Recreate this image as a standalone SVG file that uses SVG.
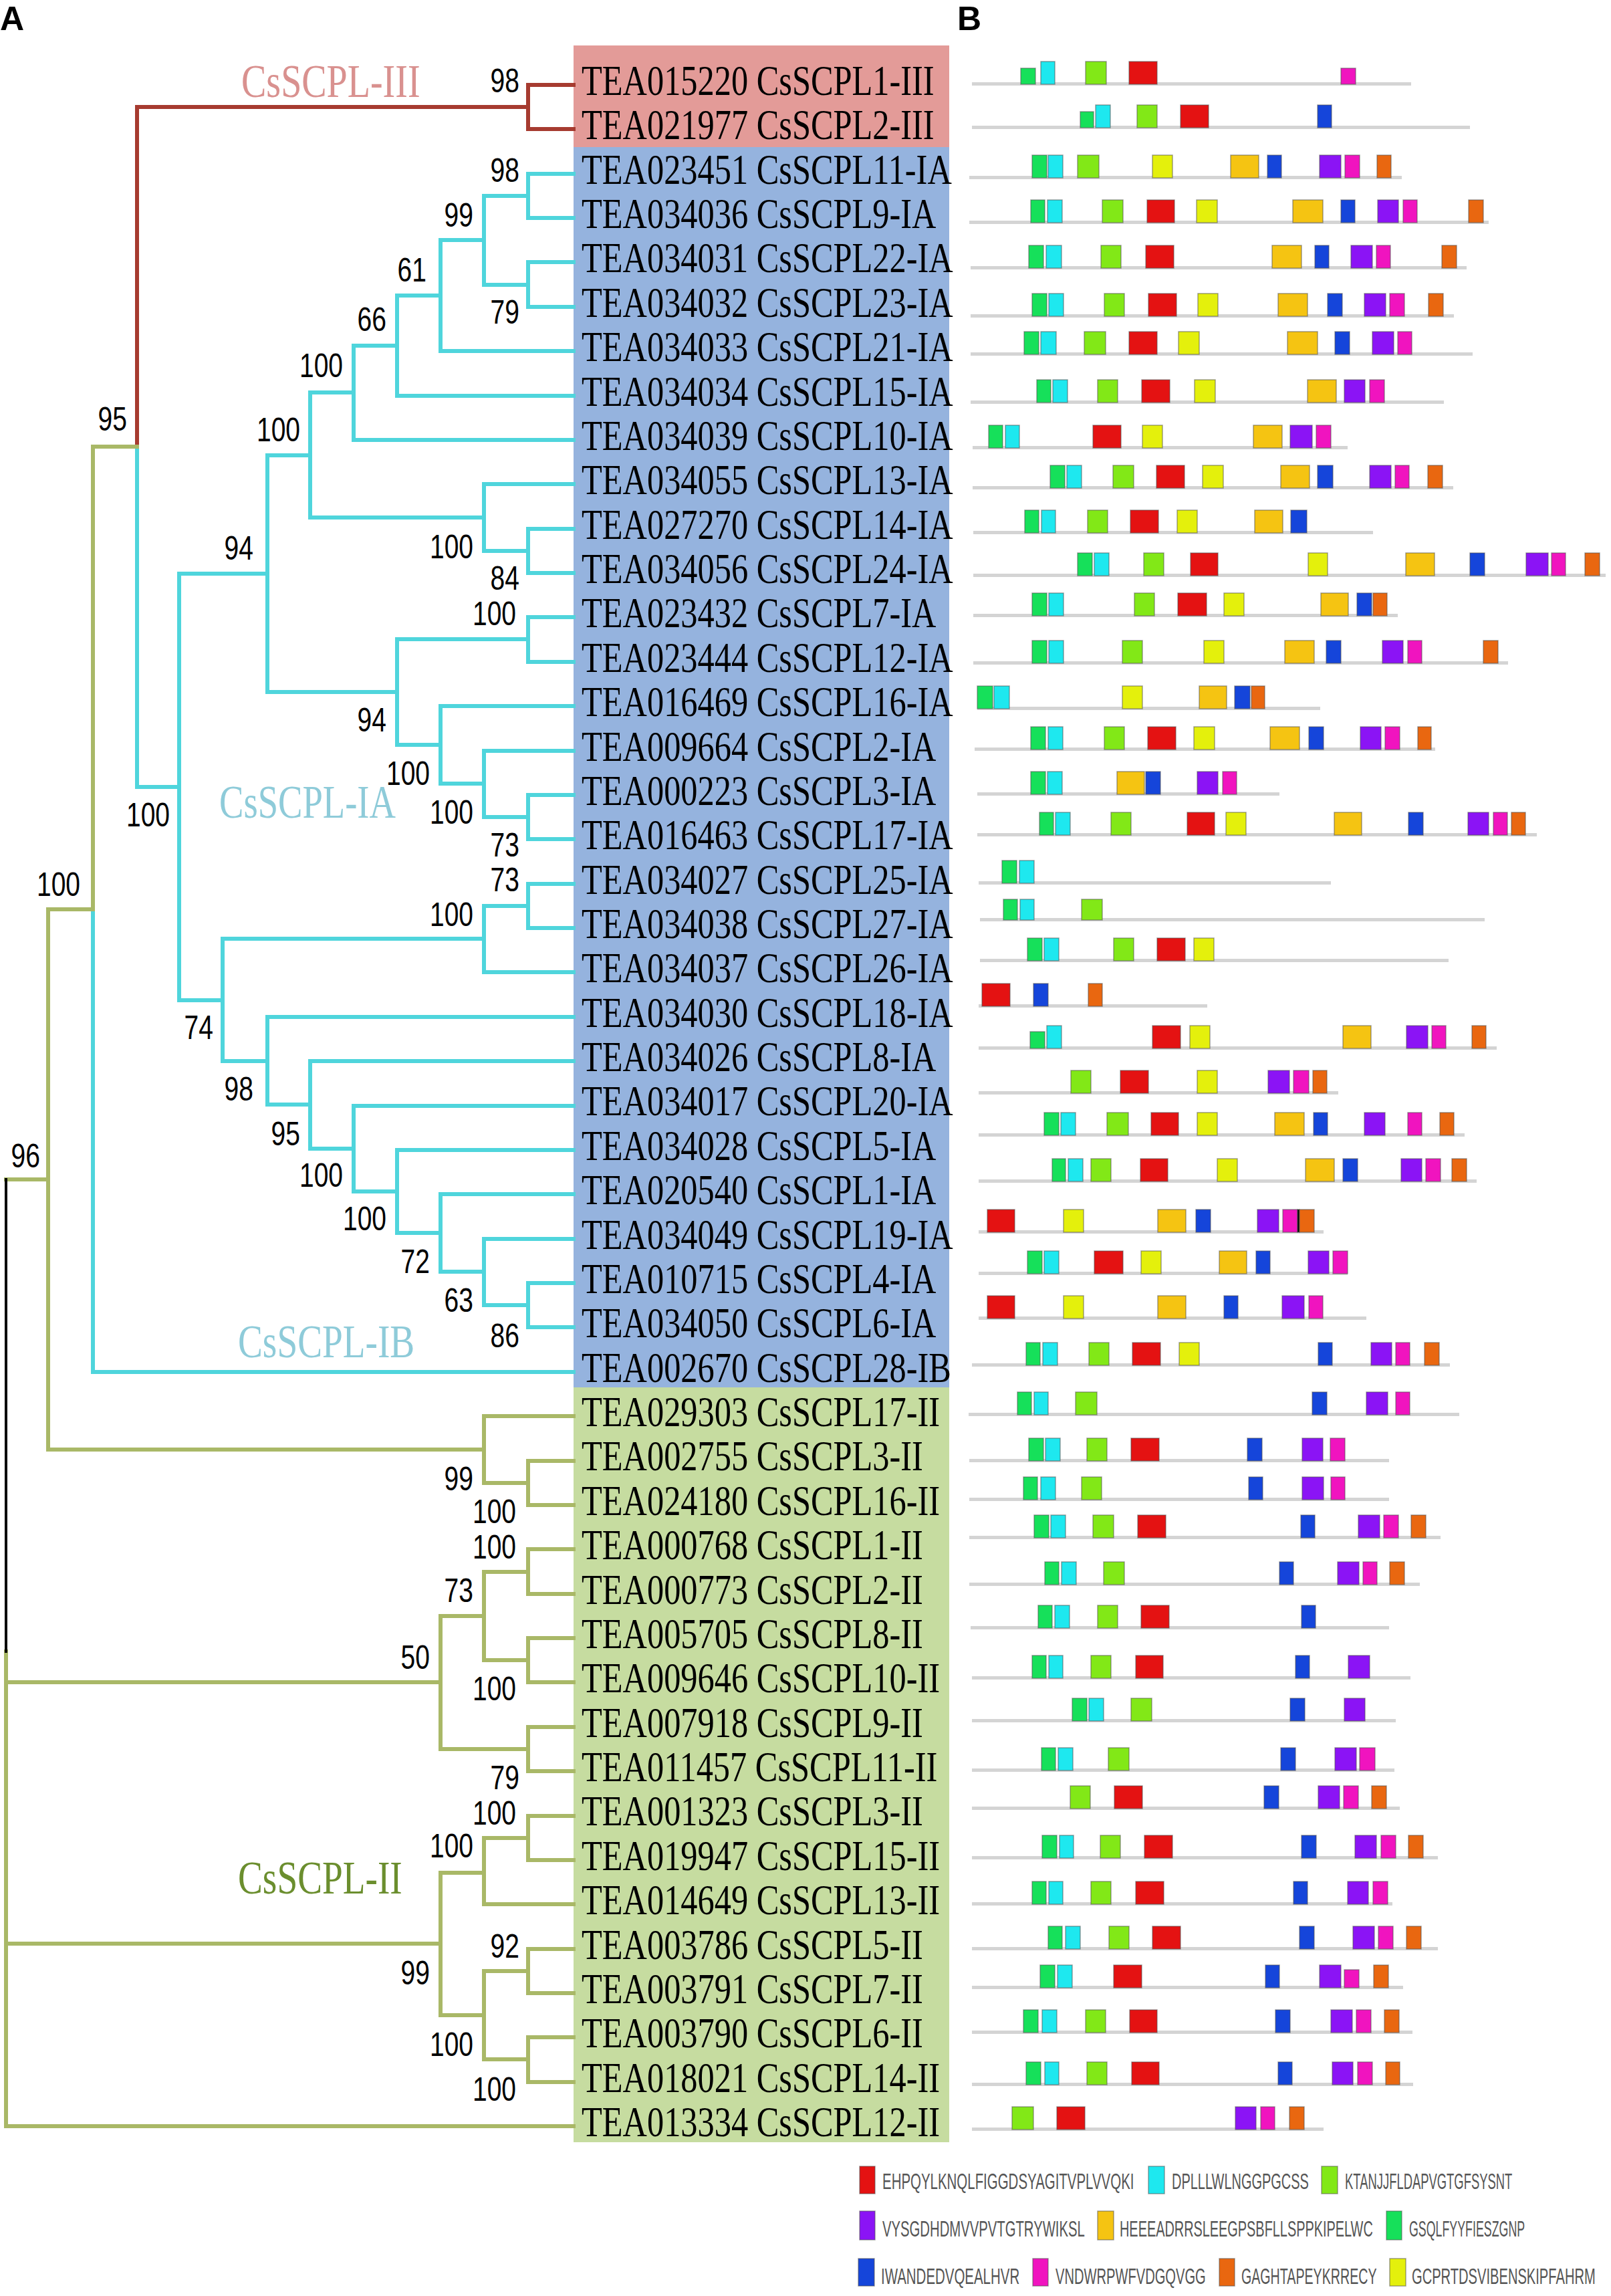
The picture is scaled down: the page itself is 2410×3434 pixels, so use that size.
<svg xmlns="http://www.w3.org/2000/svg" width="2410" height="3434" viewBox="0 0 2410 3434">
<style>
.t{font-family:"Liberation Serif","Times New Roman",serif;font-size:63px;fill:#000}
.bs{font-family:"Liberation Sans",Arial,sans-serif;font-size:50px;fill:#000;text-anchor:end}
.cl{font-family:"Liberation Serif","Times New Roman",serif;font-size:70px}
.lg{font-family:"Liberation Sans",Arial,sans-serif;font-size:33px;fill:#555}
.hd{font-family:"Liberation Sans",Arial,sans-serif;font-size:50px;font-weight:bold;fill:#000}
.e{fill:none;stroke-width:6;stroke-linecap:square}
.er{stroke:#a63b30}.ec{stroke:#4fd5dc}.eg{stroke:#a9b867}.ek{stroke:#000;stroke-width:4}
.ln{fill:#d4d4d4}
.R,.C,.L,.Y,.G,.B,.P,.K,.O,.N,.X{stroke:#555;stroke-opacity:.55;stroke-width:1.5}
.R{fill:#e41212}.C{fill:#1ee8ef}.L{fill:#82e817}.Y{fill:#e4f00c}.G{fill:#f5c412}.B{fill:#1545da}.P{fill:#8b14f5}.K{fill:#f014bf}.O{fill:#e96710}.N{fill:#16e05a}.X{fill:#000}
</style>
<rect width="2410" height="3434" fill="#fff"/>
<text class="hd" x="0" y="45">A</text>
<text class="hd" x="1432" y="45">B</text>
<g id="backgrounds">
<rect x="858" y="68" width="562" height="152" fill="#e39b98"/>
<rect x="858" y="220" width="562" height="1855" fill="#95b3de"/>
<rect x="858" y="2075" width="562" height="1129" fill="#c6dca0"/>
</g>
<g id="connectors">
<path class="e er" d="M790 127H858M790 193H858M790 127V193M205 160H790M205 160V668"/>
<path class="e ec" d="M205 668V1177M205 1177H268M268 858V1496M268 858H400M400 681V1035M400 681H464M464 587V774M464 587H529M529 517V658M529 658H858M529 517H594M594 442V592M594 592H858M594 442H659M659 359V525M659 525H858M659 359H724M724 293V426M724 293H790M790 260V326M790 260H858M790 326H858M724 426H790M790 392V459M790 392H858M790 459H858M464 774H724M724 724V824M724 724H858M724 824H790M790 791V857M790 791H858M790 857H858M400 1035H594M594 956V1114M594 956H790M790 923V990M790 923H858M790 990H858M594 1114H659M659 1056V1172M659 1056H858M659 1172H724M724 1123V1222M724 1123H858M724 1222H790M790 1189V1255M790 1189H858M790 1255H858M268 1496H333M333 1404V1587M333 1404H724M724 1355V1454M724 1454H858M724 1355H790M790 1322V1388M790 1322H858M790 1388H858M333 1587H400M400 1521V1652M400 1521H858M400 1652H464M464 1587V1718M464 1587H858M464 1718H529M529 1654V1782M529 1654H858M529 1782H594M594 1720V1844M594 1720H858M594 1844H659M659 1786V1902M659 1786H858M659 1902H724M724 1853V1952M724 1853H858M724 1952H790M790 1919V1985M790 1919H858M790 1985H858M139 1360V2052M139 2052H858"/>
<path class="e eg" d="M139 668H205M139 668V1360M72 1360H139M72 1360V2168M9 1764H72M72 2168H724M724 2118V2218M724 2118H858M724 2218H790M790 2185V2251M790 2185H858M790 2251H858M9 2470V3180M9 2516H659M659 2417V2616M659 2417H724M724 2351V2483M724 2351H790M790 2317V2384M790 2317H858M790 2384H858M724 2483H790M790 2450V2516M790 2450H858M790 2516H858M659 2616H790M790 2583V2649M790 2583H858M790 2649H858M9 2907H659M659 2801V3014M659 2801H724M724 2749V2848M724 2848H858M724 2749H790M790 2716V2782M790 2716H858M790 2782H858M659 3014H724M724 2948V3080M724 2948H790M790 2915V2981M790 2915H858M790 2981H858M724 3080H790M790 3047V3114M790 3047H858M790 3114H858M9 3180H858"/>
<path class="e ek" d="M9 1764V2470"/>
</g>
<g id="clade-labels">
<text class="cl" fill="#d9918f" transform="translate(361 145) scale(0.8 1)">CsSCPL-III</text>
<text class="cl" fill="#8ecbd9" transform="translate(328 1223) scale(0.78 1)">CsSCPL-IA</text>
<text class="cl" fill="#8ecbd9" transform="translate(356 2030) scale(0.79 1)">CsSCPL-IB</text>
<text class="cl" fill="#6b8e2e" transform="translate(356 2832) scale(0.79 1)">CsSCPL-II</text>
</g>
<g id="bootstrap">
<text class="bs" transform="translate(777 138) scale(0.78 1)">98</text>
<text class="bs" transform="translate(777 272) scale(0.78 1)">98</text>
<text class="bs" transform="translate(777 484) scale(0.78 1)">79</text>
<text class="bs" transform="translate(708 339) scale(0.78 1)">99</text>
<text class="bs" transform="translate(638 421) scale(0.78 1)">61</text>
<text class="bs" transform="translate(578 495) scale(0.78 1)">66</text>
<text class="bs" transform="translate(513 564) scale(0.78 1)">100</text>
<text class="bs" transform="translate(449 660) scale(0.78 1)">100</text>
<text class="bs" transform="translate(190 644) scale(0.78 1)">95</text>
<text class="bs" transform="translate(708 835) scale(0.78 1)">100</text>
<text class="bs" transform="translate(777 882) scale(0.78 1)">84</text>
<text class="bs" transform="translate(379 837) scale(0.78 1)">94</text>
<text class="bs" transform="translate(772 935) scale(0.78 1)">100</text>
<text class="bs" transform="translate(578 1094) scale(0.78 1)">94</text>
<text class="bs" transform="translate(643 1174) scale(0.78 1)">100</text>
<text class="bs" transform="translate(708 1232) scale(0.78 1)">100</text>
<text class="bs" transform="translate(777 1281) scale(0.78 1)">73</text>
<text class="bs" transform="translate(254 1236) scale(0.78 1)">100</text>
<text class="bs" transform="translate(777 1333) scale(0.78 1)">73</text>
<text class="bs" transform="translate(120 1340) scale(0.78 1)">100</text>
<text class="bs" transform="translate(708 1385) scale(0.78 1)">100</text>
<text class="bs" transform="translate(319 1554) scale(0.78 1)">74</text>
<text class="bs" transform="translate(379 1646) scale(0.78 1)">98</text>
<text class="bs" transform="translate(449 1713) scale(0.78 1)">95</text>
<text class="bs" transform="translate(513 1775) scale(0.78 1)">100</text>
<text class="bs" transform="translate(578 1840) scale(0.78 1)">100</text>
<text class="bs" transform="translate(643 1904) scale(0.78 1)">72</text>
<text class="bs" transform="translate(708 1962) scale(0.78 1)">63</text>
<text class="bs" transform="translate(60 1746) scale(0.78 1)">96</text>
<text class="bs" transform="translate(777 2015) scale(0.78 1)">86</text>
<text class="bs" transform="translate(708 2229) scale(0.78 1)">99</text>
<text class="bs" transform="translate(772 2278) scale(0.78 1)">100</text>
<text class="bs" transform="translate(772 2331) scale(0.78 1)">100</text>
<text class="bs" transform="translate(708 2396) scale(0.78 1)">73</text>
<text class="bs" transform="translate(643 2496) scale(0.78 1)">50</text>
<text class="bs" transform="translate(772 2543) scale(0.78 1)">100</text>
<text class="bs" transform="translate(777 2676) scale(0.78 1)">79</text>
<text class="bs" transform="translate(772 2729) scale(0.78 1)">100</text>
<text class="bs" transform="translate(708 2778) scale(0.78 1)">100</text>
<text class="bs" transform="translate(777 2928) scale(0.78 1)">92</text>
<text class="bs" transform="translate(643 2968) scale(0.78 1)">99</text>
<text class="bs" transform="translate(708 3075) scale(0.78 1)">100</text>
<text class="bs" transform="translate(772 3142) scale(0.78 1)">100</text>
</g>
<g id="taxa" transform="scale(0.8 1)">
<g id="n0"><text class="t" x="1087.5" y="142">TEA015220 CsSCPL1-III</text></g>
<g id="n1"><text class="t" x="1087.5" y="208">TEA021977 CsSCPL2-III</text></g>
<g id="n2"><text class="t" x="1087.5" y="275">TEA023451 CsSCPL11-IA</text></g>
<g id="n3"><text class="t" x="1087.5" y="341">TEA034036 CsSCPL9-IA</text></g>
<g id="n4"><text class="t" x="1087.5" y="407">TEA034031 CsSCPL22-IA</text></g>
<g id="n5"><text class="t" x="1087.5" y="474">TEA034032 CsSCPL23-IA</text></g>
<g id="n6"><text class="t" x="1087.5" y="540">TEA034033 CsSCPL21-IA</text></g>
<g id="n7"><text class="t" x="1087.5" y="607">TEA034034 CsSCPL15-IA</text></g>
<g id="n8"><text class="t" x="1087.5" y="673">TEA034039 CsSCPL10-IA</text></g>
<g id="n9"><text class="t" x="1087.5" y="739">TEA034055 CsSCPL13-IA</text></g>
<g id="n10"><text class="t" x="1087.5" y="806">TEA027270 CsSCPL14-IA</text></g>
<g id="n11"><text class="t" x="1087.5" y="872">TEA034056 CsSCPL24-IA</text></g>
<g id="n12"><text class="t" x="1087.5" y="938">TEA023432 CsSCPL7-IA</text></g>
<g id="n13"><text class="t" x="1087.5" y="1005">TEA023444 CsSCPL12-IA</text></g>
<g id="n14"><text class="t" x="1087.5" y="1071">TEA016469 CsSCPL16-IA</text></g>
<g id="n15"><text class="t" x="1087.5" y="1138">TEA009664 CsSCPL2-IA</text></g>
<g id="n16"><text class="t" x="1087.5" y="1204">TEA000223 CsSCPL3-IA</text></g>
<g id="n17"><text class="t" x="1087.5" y="1270">TEA016463 CsSCPL17-IA</text></g>
<g id="n18"><text class="t" x="1087.5" y="1337">TEA034027 CsSCPL25-IA</text></g>
<g id="n19"><text class="t" x="1087.5" y="1403">TEA034038 CsSCPL27-IA</text></g>
<g id="n20"><text class="t" x="1087.5" y="1469">TEA034037 CsSCPL26-IA</text></g>
<g id="n21"><text class="t" x="1087.5" y="1536">TEA034030 CsSCPL18-IA</text></g>
<g id="n22"><text class="t" x="1087.5" y="1602">TEA034026 CsSCPL8-IA</text></g>
<g id="n23"><text class="t" x="1087.5" y="1668">TEA034017 CsSCPL20-IA</text></g>
<g id="n24"><text class="t" x="1087.5" y="1735">TEA034028 CsSCPL5-IA</text></g>
<g id="n25"><text class="t" x="1087.5" y="1801">TEA020540 CsSCPL1-IA</text></g>
<g id="n26"><text class="t" x="1087.5" y="1868">TEA034049 CsSCPL19-IA</text></g>
<g id="n27"><text class="t" x="1087.5" y="1934">TEA010715 CsSCPL4-IA</text></g>
<g id="n28"><text class="t" x="1087.5" y="2000">TEA034050 CsSCPL6-IA</text></g>
<g id="n29"><text class="t" x="1087.5" y="2067">TEA002670 CsSCPL28-IB</text></g>
<g id="n30"><text class="t" x="1087.5" y="2133">TEA029303 CsSCPL17-II</text></g>
<g id="n31"><text class="t" x="1087.5" y="2199">TEA002755 CsSCPL3-II</text></g>
<g id="n32"><text class="t" x="1087.5" y="2266">TEA024180 CsSCPL16-II</text></g>
<g id="n33"><text class="t" x="1087.5" y="2332">TEA000768 CsSCPL1-II</text></g>
<g id="n34"><text class="t" x="1087.5" y="2399">TEA000773 CsSCPL2-II</text></g>
<g id="n35"><text class="t" x="1087.5" y="2465">TEA005705 CsSCPL8-II</text></g>
<g id="n36"><text class="t" x="1087.5" y="2531">TEA009646 CsSCPL10-II</text></g>
<g id="n37"><text class="t" x="1087.5" y="2598">TEA007918 CsSCPL9-II</text></g>
<g id="n38"><text class="t" x="1087.5" y="2664">TEA011457 CsSCPL11-II</text></g>
<g id="n39"><text class="t" x="1087.5" y="2730">TEA001323 CsSCPL3-II</text></g>
<g id="n40"><text class="t" x="1087.5" y="2797">TEA019947 CsSCPL15-II</text></g>
<g id="n41"><text class="t" x="1087.5" y="2863">TEA014649 CsSCPL13-II</text></g>
<g id="n42"><text class="t" x="1087.5" y="2930">TEA003786 CsSCPL5-II</text></g>
<g id="n43"><text class="t" x="1087.5" y="2996">TEA003791 CsSCPL7-II</text></g>
<g id="n44"><text class="t" x="1087.5" y="3062">TEA003790 CsSCPL6-II</text></g>
<g id="n45"><text class="t" x="1087.5" y="3129">TEA018021 CsSCPL14-II</text></g>
<g id="n46"><text class="t" x="1087.5" y="3195">TEA013334 CsSCPL12-II</text></g>
</g>
<g id="motifs">
<g id="m0" transform="translate(0 126)"><rect class="ln" x="1454" y="-3" width="657" height="5"/><rect class="N" x="1527" y="-24" width="22" height="24"/><rect class="C" x="1557" y="-34" width="21" height="34"/><rect class="L" x="1624" y="-34" width="31" height="34"/><rect class="R" x="1689" y="-34" width="42" height="34"/><rect class="K" x="2006" y="-24" width="22" height="24"/></g>
<g id="m1" transform="translate(0 191)"><rect class="ln" x="1454" y="-3" width="745" height="5"/><rect class="N" x="1616" y="-24" width="20" height="24"/><rect class="C" x="1639" y="-34" width="22" height="34"/><rect class="L" x="1701" y="-34" width="30" height="34"/><rect class="R" x="1766" y="-34" width="42" height="34"/><rect class="B" x="1971" y="-34" width="21" height="34"/></g>
<g id="m2" transform="translate(0 266)"><rect class="ln" x="1450" y="-3" width="647" height="5"/><rect class="N" x="1544" y="-34" width="22" height="34"/><rect class="C" x="1568" y="-34" width="22" height="34"/><rect class="L" x="1612" y="-34" width="32" height="34"/><rect class="Y" x="1724" y="-34" width="30" height="34"/><rect class="G" x="1841" y="-34" width="42" height="34"/><rect class="B" x="1896" y="-34" width="21" height="34"/><rect class="P" x="1974" y="-34" width="32" height="34"/><rect class="K" x="2012" y="-34" width="22" height="34"/><rect class="O" x="2060" y="-34" width="21" height="34"/></g>
<g id="m3" transform="translate(0 333)"><rect class="ln" x="1450" y="-3" width="777" height="5"/><rect class="N" x="1542" y="-34" width="21" height="34"/><rect class="C" x="1567" y="-34" width="22" height="34"/><rect class="L" x="1649" y="-34" width="31" height="34"/><rect class="R" x="1716" y="-34" width="41" height="34"/><rect class="Y" x="1790" y="-34" width="31" height="34"/><rect class="G" x="1934" y="-34" width="45" height="34"/><rect class="B" x="2006" y="-34" width="21" height="34"/><rect class="P" x="2061" y="-34" width="31" height="34"/><rect class="K" x="2099" y="-34" width="21" height="34"/><rect class="O" x="2197" y="-34" width="22" height="34"/></g>
<g id="m4" transform="translate(0 401)"><rect class="ln" x="1452" y="-3" width="742" height="5"/><rect class="N" x="1539" y="-34" width="22" height="34"/><rect class="C" x="1565" y="-34" width="23" height="34"/><rect class="L" x="1647" y="-34" width="30" height="34"/><rect class="R" x="1714" y="-34" width="42" height="34"/><rect class="G" x="1903" y="-34" width="44" height="34"/><rect class="B" x="1967" y="-34" width="21" height="34"/><rect class="P" x="2021" y="-34" width="32" height="34"/><rect class="K" x="2059" y="-34" width="21" height="34"/><rect class="O" x="2157" y="-34" width="22" height="34"/></g>
<g id="m5" transform="translate(0 473)"><rect class="ln" x="1452" y="-3" width="723" height="5"/><rect class="N" x="1544" y="-34" width="22" height="34"/><rect class="C" x="1569" y="-34" width="22" height="34"/><rect class="L" x="1652" y="-34" width="30" height="34"/><rect class="R" x="1718" y="-34" width="42" height="34"/><rect class="Y" x="1792" y="-34" width="30" height="34"/><rect class="G" x="1912" y="-34" width="44" height="34"/><rect class="B" x="1986" y="-34" width="22" height="34"/><rect class="P" x="2041" y="-34" width="32" height="34"/><rect class="K" x="2079" y="-34" width="22" height="34"/><rect class="O" x="2137" y="-34" width="22" height="34"/></g>
<g id="m6" transform="translate(0 530)"><rect class="ln" x="1452" y="-3" width="751" height="5"/><rect class="N" x="1532" y="-34" width="22" height="34"/><rect class="C" x="1557" y="-34" width="23" height="34"/><rect class="L" x="1622" y="-34" width="32" height="34"/><rect class="R" x="1689" y="-34" width="42" height="34"/><rect class="Y" x="1763" y="-34" width="31" height="34"/><rect class="G" x="1926" y="-34" width="45" height="34"/><rect class="B" x="1997" y="-34" width="22" height="34"/><rect class="P" x="2053" y="-34" width="32" height="34"/><rect class="K" x="2091" y="-34" width="21" height="34"/></g>
<g id="m7" transform="translate(0 602)"><rect class="ln" x="1452" y="-3" width="708" height="5"/><rect class="N" x="1551" y="-34" width="21" height="34"/><rect class="C" x="1575" y="-34" width="22" height="34"/><rect class="L" x="1642" y="-34" width="30" height="34"/><rect class="R" x="1708" y="-34" width="42" height="34"/><rect class="Y" x="1787" y="-34" width="31" height="34"/><rect class="G" x="1956" y="-34" width="43" height="34"/><rect class="P" x="2011" y="-34" width="31" height="34"/><rect class="K" x="2049" y="-34" width="22" height="34"/></g>
<g id="m8" transform="translate(0 670)"><rect class="ln" x="1455" y="-3" width="561" height="5"/><rect class="N" x="1479" y="-34" width="21" height="34"/><rect class="C" x="1504" y="-34" width="21" height="34"/><rect class="R" x="1635" y="-34" width="42" height="34"/><rect class="Y" x="1709" y="-34" width="30" height="34"/><rect class="G" x="1875" y="-34" width="43" height="34"/><rect class="P" x="1930" y="-34" width="33" height="34"/><rect class="K" x="1969" y="-34" width="22" height="34"/></g>
<g id="m9" transform="translate(0 730)"><rect class="ln" x="1455" y="-3" width="719" height="5"/><rect class="N" x="1571" y="-34" width="22" height="34"/><rect class="C" x="1596" y="-34" width="22" height="34"/><rect class="L" x="1665" y="-34" width="31" height="34"/><rect class="R" x="1730" y="-34" width="42" height="34"/><rect class="Y" x="1799" y="-34" width="31" height="34"/><rect class="G" x="1916" y="-34" width="43" height="34"/><rect class="B" x="1971" y="-34" width="23" height="34"/><rect class="P" x="2049" y="-34" width="32" height="34"/><rect class="K" x="2087" y="-34" width="21" height="34"/><rect class="O" x="2136" y="-34" width="22" height="34"/></g>
<g id="m10" transform="translate(0 797)"><rect class="ln" x="1456" y="-3" width="598" height="5"/><rect class="N" x="1533" y="-34" width="21" height="34"/><rect class="C" x="1558" y="-34" width="21" height="34"/><rect class="L" x="1627" y="-34" width="30" height="34"/><rect class="R" x="1691" y="-34" width="42" height="34"/><rect class="Y" x="1761" y="-34" width="30" height="34"/><rect class="G" x="1877" y="-34" width="42" height="34"/><rect class="B" x="1931" y="-34" width="24" height="34"/></g>
<g id="m11" transform="translate(0 861)"><rect class="ln" x="1456" y="-3" width="946" height="5"/><rect class="N" x="1612" y="-34" width="22" height="34"/><rect class="C" x="1637" y="-34" width="22" height="34"/><rect class="L" x="1711" y="-34" width="30" height="34"/><rect class="R" x="1781" y="-34" width="41" height="34"/><rect class="Y" x="1957" y="-34" width="29" height="34"/><rect class="G" x="2103" y="-34" width="43" height="34"/><rect class="B" x="2199" y="-34" width="22" height="34"/><rect class="P" x="2283" y="-34" width="33" height="34"/><rect class="K" x="2321" y="-34" width="21" height="34"/><rect class="O" x="2371" y="-34" width="22" height="34"/></g>
<g id="m12" transform="translate(0 921)"><rect class="ln" x="1456" y="-3" width="635" height="5"/><rect class="N" x="1544" y="-34" width="22" height="34"/><rect class="C" x="1569" y="-34" width="22" height="34"/><rect class="L" x="1697" y="-34" width="30" height="34"/><rect class="R" x="1762" y="-34" width="43" height="34"/><rect class="Y" x="1831" y="-34" width="30" height="34"/><rect class="G" x="1976" y="-34" width="41" height="34"/><rect class="B" x="2030" y="-34" width="22" height="34"/><rect class="O" x="2054" y="-34" width="21" height="34"/></g>
<g id="m13" transform="translate(0 992)"><rect class="ln" x="1456" y="-3" width="800" height="5"/><rect class="N" x="1544" y="-34" width="22" height="34"/><rect class="C" x="1569" y="-34" width="22" height="34"/><rect class="L" x="1679" y="-34" width="30" height="34"/><rect class="Y" x="1801" y="-34" width="30" height="34"/><rect class="G" x="1922" y="-34" width="44" height="34"/><rect class="B" x="1984" y="-34" width="22" height="34"/><rect class="P" x="2068" y="-34" width="31" height="34"/><rect class="K" x="2106" y="-34" width="21" height="34"/><rect class="O" x="2219" y="-34" width="22" height="34"/></g>
<g id="m14" transform="translate(0 1060)"><rect class="ln" x="1462" y="-3" width="513" height="5"/><rect class="N" x="1462" y="-34" width="23" height="34"/><rect class="C" x="1487" y="-34" width="23" height="34"/><rect class="Y" x="1679" y="-34" width="30" height="34"/><rect class="G" x="1794" y="-34" width="41" height="34"/><rect class="B" x="1847" y="-34" width="23" height="34"/><rect class="O" x="1872" y="-34" width="20" height="34"/></g>
<g id="m15" transform="translate(0 1121)"><rect class="ln" x="1458" y="-3" width="689" height="5"/><rect class="N" x="1542" y="-34" width="22" height="34"/><rect class="C" x="1568" y="-34" width="22" height="34"/><rect class="L" x="1652" y="-34" width="30" height="34"/><rect class="R" x="1717" y="-34" width="42" height="34"/><rect class="Y" x="1786" y="-34" width="31" height="34"/><rect class="G" x="1900" y="-34" width="44" height="34"/><rect class="B" x="1958" y="-34" width="22" height="34"/><rect class="P" x="2035" y="-34" width="31" height="34"/><rect class="K" x="2072" y="-34" width="22" height="34"/><rect class="O" x="2121" y="-34" width="20" height="34"/></g>
<g id="m16" transform="translate(0 1188)"><rect class="ln" x="1462" y="-3" width="452" height="5"/><rect class="N" x="1542" y="-34" width="22" height="34"/><rect class="C" x="1567" y="-34" width="22" height="34"/><rect class="G" x="1671" y="-34" width="41" height="34"/><rect class="B" x="1714" y="-34" width="22" height="34"/><rect class="P" x="1791" y="-34" width="31" height="34"/><rect class="K" x="1829" y="-34" width="21" height="34"/></g>
<g id="m17" transform="translate(0 1249)"><rect class="ln" x="1462" y="-3" width="837" height="5"/><rect class="N" x="1555" y="-34" width="21" height="34"/><rect class="C" x="1579" y="-34" width="22" height="34"/><rect class="L" x="1662" y="-34" width="30" height="34"/><rect class="R" x="1776" y="-34" width="41" height="34"/><rect class="Y" x="1834" y="-34" width="30" height="34"/><rect class="G" x="1996" y="-34" width="41" height="34"/><rect class="B" x="2107" y="-34" width="22" height="34"/><rect class="P" x="2196" y="-34" width="31" height="34"/><rect class="K" x="2234" y="-34" width="21" height="34"/><rect class="O" x="2261" y="-34" width="21" height="34"/></g>
<g id="m18" transform="translate(0 1321)"><rect class="ln" x="1464" y="-3" width="527" height="5"/><rect class="N" x="1499" y="-34" width="22" height="34"/><rect class="C" x="1525" y="-34" width="22" height="34"/></g>
<g id="m19" transform="translate(0 1376)"><rect class="ln" x="1466" y="-3" width="755" height="5"/><rect class="N" x="1501" y="-31" width="21" height="31"/><rect class="C" x="1526" y="-31" width="21" height="31"/><rect class="L" x="1618" y="-31" width="31" height="31"/></g>
<g id="m20" transform="translate(0 1437)"><rect class="ln" x="1466" y="-3" width="701" height="5"/><rect class="N" x="1537" y="-34" width="22" height="34"/><rect class="C" x="1562" y="-34" width="22" height="34"/><rect class="L" x="1666" y="-34" width="30" height="34"/><rect class="R" x="1731" y="-34" width="42" height="34"/><rect class="Y" x="1786" y="-34" width="30" height="34"/></g>
<g id="m21" transform="translate(0 1505)"><rect class="ln" x="1464" y="-3" width="342" height="5"/><rect class="R" x="1469" y="-34" width="42" height="34"/><rect class="B" x="1546" y="-34" width="22" height="34"/><rect class="O" x="1628" y="-34" width="21" height="34"/></g>
<g id="m22" transform="translate(0 1568)"><rect class="ln" x="1464" y="-3" width="775" height="5"/><rect class="N" x="1541" y="-25" width="22" height="25"/><rect class="C" x="1566" y="-34" width="22" height="34"/><rect class="R" x="1724" y="-34" width="42" height="34"/><rect class="Y" x="1780" y="-34" width="30" height="34"/><rect class="G" x="2009" y="-34" width="42" height="34"/><rect class="P" x="2104" y="-34" width="32" height="34"/><rect class="K" x="2142" y="-34" width="21" height="34"/><rect class="O" x="2202" y="-34" width="21" height="34"/></g>
<g id="m23" transform="translate(0 1635)"><rect class="ln" x="1464" y="-3" width="538" height="5"/><rect class="L" x="1602" y="-34" width="30" height="34"/><rect class="R" x="1676" y="-34" width="42" height="34"/><rect class="Y" x="1791" y="-34" width="30" height="34"/><rect class="P" x="1897" y="-34" width="32" height="34"/><rect class="K" x="1935" y="-34" width="23" height="34"/><rect class="O" x="1964" y="-34" width="21" height="34"/></g>
<g id="m24" transform="translate(0 1698)"><rect class="ln" x="1464" y="-3" width="727" height="5"/><rect class="N" x="1562" y="-34" width="22" height="34"/><rect class="C" x="1587" y="-34" width="22" height="34"/><rect class="L" x="1656" y="-34" width="32" height="34"/><rect class="R" x="1722" y="-34" width="41" height="34"/><rect class="Y" x="1791" y="-34" width="30" height="34"/><rect class="G" x="1907" y="-34" width="44" height="34"/><rect class="B" x="1965" y="-34" width="21" height="34"/><rect class="P" x="2041" y="-34" width="31" height="34"/><rect class="K" x="2106" y="-34" width="21" height="34"/><rect class="O" x="2154" y="-34" width="21" height="34"/></g>
<g id="m25" transform="translate(0 1767)"><rect class="ln" x="1464" y="-3" width="745" height="5"/><rect class="N" x="1574" y="-34" width="20" height="34"/><rect class="C" x="1598" y="-34" width="22" height="34"/><rect class="L" x="1632" y="-34" width="30" height="34"/><rect class="R" x="1706" y="-34" width="41" height="34"/><rect class="Y" x="1821" y="-34" width="30" height="34"/><rect class="G" x="1953" y="-34" width="43" height="34"/><rect class="B" x="2009" y="-34" width="22" height="34"/><rect class="P" x="2096" y="-34" width="31" height="34"/><rect class="K" x="2133" y="-34" width="22" height="34"/><rect class="O" x="2172" y="-34" width="22" height="34"/></g>
<g id="m26" transform="translate(0 1843)"><rect class="ln" x="1464" y="-3" width="516" height="5"/><rect class="R" x="1477" y="-34" width="41" height="34"/><rect class="Y" x="1591" y="-34" width="30" height="34"/><rect class="G" x="1732" y="-34" width="42" height="34"/><rect class="B" x="1789" y="-34" width="22" height="34"/><rect class="P" x="1881" y="-34" width="32" height="34"/><rect class="K" x="1919" y="-34" width="22" height="34"/><rect class="X" x="1941" y="-34" width="3" height="34"/><rect class="O" x="1944" y="-34" width="22" height="34"/></g>
<g id="m27" transform="translate(0 1905)"><rect class="ln" x="1464" y="-3" width="552" height="5"/><rect class="N" x="1537" y="-34" width="22" height="34"/><rect class="C" x="1562" y="-34" width="22" height="34"/><rect class="R" x="1637" y="-34" width="43" height="34"/><rect class="Y" x="1707" y="-34" width="30" height="34"/><rect class="G" x="1824" y="-34" width="41" height="34"/><rect class="B" x="1879" y="-34" width="21" height="34"/><rect class="P" x="1957" y="-34" width="31" height="34"/><rect class="K" x="1994" y="-34" width="22" height="34"/></g>
<g id="m28" transform="translate(0 1972)"><rect class="ln" x="1464" y="-3" width="580" height="5"/><rect class="R" x="1477" y="-34" width="41" height="34"/><rect class="Y" x="1591" y="-34" width="30" height="34"/><rect class="G" x="1732" y="-34" width="42" height="34"/><rect class="B" x="1831" y="-34" width="21" height="34"/><rect class="P" x="1918" y="-34" width="33" height="34"/><rect class="K" x="1958" y="-34" width="21" height="34"/></g>
<g id="m29" transform="translate(0 2042)"><rect class="ln" x="1454" y="-3" width="715" height="5"/><rect class="N" x="1535" y="-34" width="21" height="34"/><rect class="C" x="1560" y="-34" width="22" height="34"/><rect class="L" x="1629" y="-34" width="30" height="34"/><rect class="R" x="1694" y="-34" width="42" height="34"/><rect class="Y" x="1764" y="-34" width="30" height="34"/><rect class="B" x="1972" y="-34" width="21" height="34"/><rect class="P" x="2051" y="-34" width="31" height="34"/><rect class="K" x="2088" y="-34" width="21" height="34"/><rect class="O" x="2131" y="-34" width="22" height="34"/></g>
<g id="m30" transform="translate(0 2116)"><rect class="ln" x="1449" y="-3" width="734" height="5"/><rect class="N" x="1522" y="-34" width="21" height="34"/><rect class="C" x="1547" y="-34" width="21" height="34"/><rect class="L" x="1609" y="-34" width="32" height="34"/><rect class="B" x="1963" y="-34" width="22" height="34"/><rect class="P" x="2044" y="-34" width="32" height="34"/><rect class="K" x="2088" y="-34" width="21" height="34"/></g>
<g id="m31" transform="translate(0 2185)"><rect class="ln" x="1450" y="-3" width="628" height="5"/><rect class="N" x="1539" y="-34" width="22" height="34"/><rect class="C" x="1564" y="-34" width="22" height="34"/><rect class="L" x="1626" y="-34" width="30" height="34"/><rect class="R" x="1692" y="-34" width="42" height="34"/><rect class="B" x="1866" y="-34" width="22" height="34"/><rect class="P" x="1948" y="-34" width="31" height="34"/><rect class="K" x="1990" y="-34" width="22" height="34"/></g>
<g id="m32" transform="translate(0 2243)"><rect class="ln" x="1450" y="-3" width="628" height="5"/><rect class="N" x="1531" y="-34" width="21" height="34"/><rect class="C" x="1557" y="-34" width="22" height="34"/><rect class="L" x="1618" y="-34" width="30" height="34"/><rect class="B" x="1868" y="-34" width="21" height="34"/><rect class="P" x="1948" y="-34" width="32" height="34"/><rect class="K" x="1991" y="-34" width="21" height="34"/></g>
<g id="m33" transform="translate(0 2300)"><rect class="ln" x="1450" y="-3" width="705" height="5"/><rect class="N" x="1547" y="-34" width="22" height="34"/><rect class="C" x="1572" y="-34" width="22" height="34"/><rect class="L" x="1635" y="-34" width="31" height="34"/><rect class="R" x="1702" y="-34" width="42" height="34"/><rect class="B" x="1946" y="-34" width="21" height="34"/><rect class="P" x="2032" y="-34" width="32" height="34"/><rect class="K" x="2070" y="-34" width="22" height="34"/><rect class="O" x="2111" y="-34" width="22" height="34"/></g>
<g id="m34" transform="translate(0 2370)"><rect class="ln" x="1450" y="-3" width="674" height="5"/><rect class="N" x="1563" y="-34" width="21" height="34"/><rect class="C" x="1588" y="-34" width="22" height="34"/><rect class="L" x="1651" y="-34" width="31" height="34"/><rect class="B" x="1914" y="-34" width="21" height="34"/><rect class="P" x="2001" y="-34" width="32" height="34"/><rect class="K" x="2039" y="-34" width="21" height="34"/><rect class="O" x="2079" y="-34" width="22" height="34"/></g>
<g id="m35" transform="translate(0 2435)"><rect class="ln" x="1452" y="-3" width="626" height="5"/><rect class="N" x="1553" y="-34" width="21" height="34"/><rect class="C" x="1578" y="-34" width="22" height="34"/><rect class="L" x="1642" y="-34" width="30" height="34"/><rect class="R" x="1707" y="-34" width="42" height="34"/><rect class="B" x="1947" y="-34" width="21" height="34"/></g>
<g id="m36" transform="translate(0 2510)"><rect class="ln" x="1454" y="-3" width="656" height="5"/><rect class="N" x="1544" y="-34" width="21" height="34"/><rect class="C" x="1569" y="-34" width="21" height="34"/><rect class="L" x="1632" y="-34" width="30" height="34"/><rect class="R" x="1699" y="-34" width="41" height="34"/><rect class="B" x="1938" y="-34" width="21" height="34"/><rect class="P" x="2017" y="-34" width="32" height="34"/></g>
<g id="m37" transform="translate(0 2574)"><rect class="ln" x="1454" y="-3" width="634" height="5"/><rect class="N" x="1604" y="-34" width="22" height="34"/><rect class="C" x="1629" y="-34" width="22" height="34"/><rect class="L" x="1692" y="-34" width="31" height="34"/><rect class="B" x="1930" y="-34" width="22" height="34"/><rect class="P" x="2011" y="-34" width="31" height="34"/></g>
<g id="m38" transform="translate(0 2648)"><rect class="ln" x="1454" y="-3" width="632" height="5"/><rect class="N" x="1558" y="-34" width="21" height="34"/><rect class="C" x="1583" y="-34" width="22" height="34"/><rect class="L" x="1658" y="-34" width="31" height="34"/><rect class="B" x="1916" y="-34" width="22" height="34"/><rect class="P" x="1997" y="-34" width="32" height="34"/><rect class="K" x="2034" y="-34" width="23" height="34"/></g>
<g id="m39" transform="translate(0 2705)"><rect class="ln" x="1454" y="-3" width="640" height="5"/><rect class="L" x="1601" y="-34" width="30" height="34"/><rect class="R" x="1667" y="-34" width="42" height="34"/><rect class="B" x="1891" y="-34" width="22" height="34"/><rect class="P" x="1972" y="-34" width="32" height="34"/><rect class="K" x="2010" y="-34" width="22" height="34"/><rect class="O" x="2052" y="-34" width="22" height="34"/></g>
<g id="m40" transform="translate(0 2779)"><rect class="ln" x="1454" y="-3" width="697" height="5"/><rect class="N" x="1559" y="-34" width="22" height="34"/><rect class="C" x="1585" y="-34" width="21" height="34"/><rect class="L" x="1646" y="-34" width="30" height="34"/><rect class="R" x="1712" y="-34" width="42" height="34"/><rect class="B" x="1947" y="-34" width="22" height="34"/><rect class="P" x="2027" y="-34" width="32" height="34"/><rect class="K" x="2066" y="-34" width="22" height="34"/><rect class="O" x="2107" y="-34" width="22" height="34"/></g>
<g id="m41" transform="translate(0 2848)"><rect class="ln" x="1454" y="-3" width="629" height="5"/><rect class="N" x="1544" y="-34" width="21" height="34"/><rect class="C" x="1569" y="-34" width="21" height="34"/><rect class="L" x="1632" y="-34" width="30" height="34"/><rect class="R" x="1699" y="-34" width="42" height="34"/><rect class="B" x="1935" y="-34" width="21" height="34"/><rect class="P" x="2016" y="-34" width="31" height="34"/><rect class="K" x="2054" y="-34" width="22" height="34"/></g>
<g id="m42" transform="translate(0 2915)"><rect class="ln" x="1454" y="-3" width="697" height="5"/><rect class="N" x="1568" y="-34" width="21" height="34"/><rect class="C" x="1594" y="-34" width="22" height="34"/><rect class="L" x="1659" y="-34" width="30" height="34"/><rect class="R" x="1724" y="-34" width="42" height="34"/><rect class="B" x="1944" y="-34" width="22" height="34"/><rect class="P" x="2024" y="-34" width="32" height="34"/><rect class="K" x="2062" y="-34" width="22" height="34"/><rect class="O" x="2104" y="-34" width="22" height="34"/></g>
<g id="m43" transform="translate(0 2973)"><rect class="ln" x="1454" y="-3" width="645" height="5"/><rect class="N" x="1556" y="-34" width="22" height="34"/><rect class="C" x="1582" y="-34" width="22" height="34"/><rect class="R" x="1666" y="-34" width="42" height="34"/><rect class="B" x="1893" y="-34" width="21" height="34"/><rect class="P" x="1974" y="-34" width="32" height="34"/><rect class="K" x="2011" y="-27" width="22" height="27"/><rect class="O" x="2055" y="-34" width="22" height="34"/></g>
<g id="m44" transform="translate(0 3040)"><rect class="ln" x="1454" y="-3" width="659" height="5"/><rect class="N" x="1531" y="-34" width="22" height="34"/><rect class="C" x="1559" y="-34" width="22" height="34"/><rect class="L" x="1624" y="-34" width="30" height="34"/><rect class="R" x="1690" y="-34" width="41" height="34"/><rect class="B" x="1908" y="-34" width="22" height="34"/><rect class="P" x="1991" y="-34" width="32" height="34"/><rect class="K" x="2029" y="-34" width="22" height="34"/><rect class="O" x="2071" y="-34" width="22" height="34"/></g>
<g id="m45" transform="translate(0 3118)"><rect class="ln" x="1454" y="-3" width="660" height="5"/><rect class="N" x="1535" y="-34" width="22" height="34"/><rect class="C" x="1563" y="-34" width="21" height="34"/><rect class="L" x="1626" y="-34" width="30" height="34"/><rect class="R" x="1693" y="-34" width="41" height="34"/><rect class="B" x="1912" y="-34" width="21" height="34"/><rect class="P" x="1993" y="-34" width="31" height="34"/><rect class="K" x="2031" y="-34" width="22" height="34"/><rect class="O" x="2073" y="-34" width="21" height="34"/></g>
<g id="m46" transform="translate(0 3185)"><rect class="ln" x="1454" y="-3" width="526" height="5"/><rect class="L" x="1514" y="-34" width="32" height="34"/><rect class="R" x="1581" y="-34" width="42" height="34"/><rect class="P" x="1848" y="-34" width="31" height="34"/><rect class="K" x="1886" y="-34" width="21" height="34"/><rect class="O" x="1929" y="-34" width="22" height="34"/></g>
</g>
<g id="legend">
<rect class="R" x="1286" y="3240" width="23" height="41"/><text class="lg" transform="translate(1320 3274) scale(0.62 1)">EHPQYLKNQLFIGGDSYAGITVPLVVQKI</text>
<rect class="C" x="1718" y="3240" width="24" height="41"/><text class="lg" transform="translate(1753 3274) scale(0.605 1)">DPLLLWLNGGPGCSS</text>
<rect class="L" x="1977" y="3240" width="24" height="41"/><text class="lg" transform="translate(2012 3274) scale(0.558 1)">KTANJJFLDAPVGTGFSYSNT</text>
<rect class="P" x="1286" y="3307" width="23" height="43"/><text class="lg" transform="translate(1320 3345) scale(0.615 1)">VYSGDHDMVVPVTGTRYWIKSL</text>
<rect class="G" x="1642" y="3307" width="24" height="43"/><text class="lg" transform="translate(1675 3345) scale(0.603 1)">HEEEADRRSLEEGPSBFLLSPPKIPELWC</text>
<rect class="N" x="2074" y="3307" width="23" height="43"/><text class="lg" transform="translate(2108 3345) scale(0.54 1)">GSQLFYYFIESZGNP</text>
<rect class="B" x="1284" y="3378" width="24" height="41"/><text class="lg" transform="translate(1318 3416) scale(0.62 1)">IWANDEDVQEALHVR</text>
<rect class="K" x="1545" y="3378" width="23" height="41"/><text class="lg" transform="translate(1579 3416) scale(0.61 1)">VNDWRPWFVDGQVGG</text>
<rect class="O" x="1824" y="3378" width="23" height="41"/><text class="lg" transform="translate(1857 3416) scale(0.595 1)">GAGHTAPEYKRRECY</text>
<rect class="Y" x="2079" y="3378" width="24" height="41"/><text class="lg" transform="translate(2112 3416) scale(0.61 1)">GCPRTDSVIBENSKIPFAHRM</text>
</g>
</svg>
